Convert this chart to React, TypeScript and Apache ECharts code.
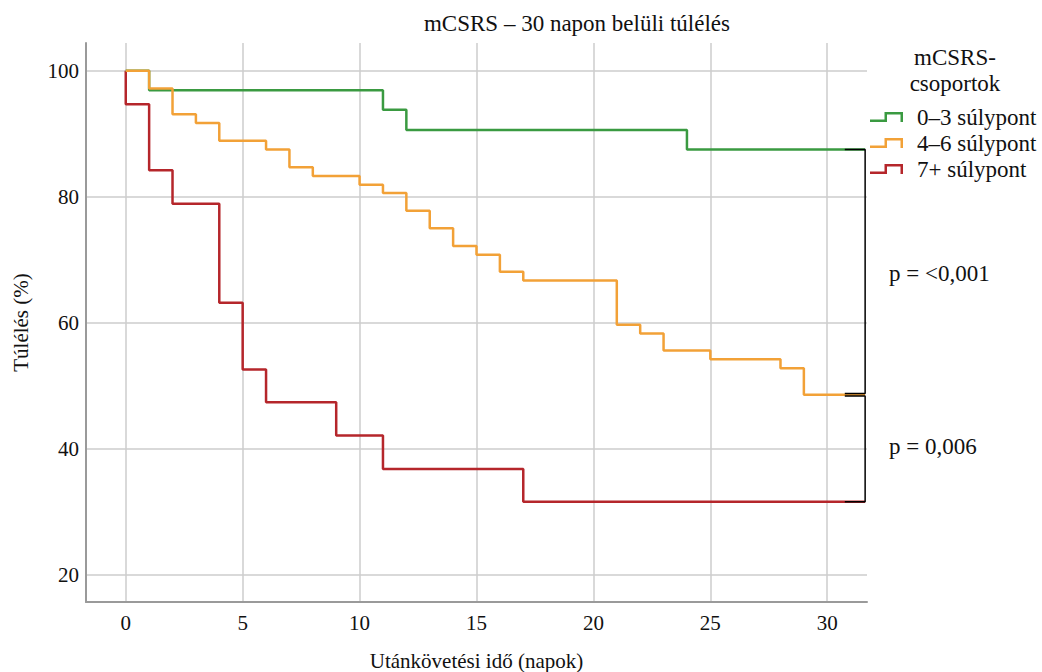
import React, { useEffect, useRef } from "react";
import * as echarts from "echarts";

const FONT = "Liberation Serif, Times New Roman, serif";

const chartTitle = "mCSRS – 30 napon belüli túlélés";
const xAxisName = "Utánkövetési idő (napok)";
const yAxisName = "Túlélés (%)";
const legendTitle = ["mCSRS-", "csoportok"];
const xTicks = [0, 5, 10, 15, 20, 25, 30];
const yTicks = [20, 40, 60, 80, 100];
const groupNames = ["0–3 súlypont", "4–6 súlypont", "7+ súlypont"];
const groupColors = ["#3a9a41", "#f2a137", "#b5262b"];

const greenDays = [0, 1, 11, 12, 24, 31.62];
const greenSurv = [100, 96.9, 93.8, 90.6, 87.5, 87.5];

const orangeDays = [0, 1, 2, 3, 4, 6, 7, 8, 10, 11, 12, 13, 14, 15, 16, 17, 21, 22, 23, 25, 28, 29, 31.62];
const orangeSurv = [100, 97.2, 93.1, 91.7, 88.9, 87.5, 84.7, 83.3, 81.9, 80.6, 77.8, 75.0, 72.2, 70.8, 68.1, 66.7, 59.7, 58.3, 55.6, 54.2, 52.8, 48.6, 48.6];

const redDays = [0, 0, 1, 2, 4, 5, 6, 9, 11, 17, 31.62];
const redSurv = [100, 94.7, 84.2, 78.9, 63.2, 52.6, 47.4, 42.1, 36.8, 31.6, 31.6];

const pLabels = ["p = <0,001", "p = 0,006"];
const bracketTickFrom = 30.75;

const zip = (a: number[], b: number[]) => a.map((v, i) => [v, b[i]]);

export default function App() {
  const ref = useRef<HTMLDivElement>(null);
  useEffect(() => {
    if (!ref.current) return;
    const chart = echarts.init(ref.current, undefined, { renderer: "svg" });
    const groups = [zip(greenDays, greenSurv), zip(orangeDays, orangeSurv), zip(redDays, redSurv)];
    const zOrder = [4, 5, 3];
    const endX = greenDays[greenDays.length - 1];
    const g = greenSurv[greenSurv.length - 1];
    const o = orangeSurv[orangeSurv.length - 1];
    const r = redSurv[redSurv.length - 1];
    const bracket1 = [[bracketTickFrom, g], [endX, g], [endX, o + 0.2], [bracketTickFrom, o + 0.2]];
    const bracket2 = [[bracketTickFrom, o - 0.2], [endX, o - 0.2], [endX, r], [bracketTickFrom, r]];

    const iconPath = "path://M0,7.5 L14.5,7.5 L14.5,0 L33,0 L33,10 L30.5,10 L30.5,2.5 L17,2.5 L17,10 L0,10 Z";

    const option: any = {
      animation: false,
      backgroundColor: "#ffffff",
      textStyle: { fontFamily: FONT },
      title: {
        text: chartTitle,
        left: 577,
        top: 12,
        textAlign: "center",
        padding: 0,
        textStyle: { fontFamily: FONT, fontSize: 23, fontWeight: "normal", color: "#111" },
      },
      legend: {
        orient: "vertical",
        left: 870,
        top: 104,
        padding: 0,
        itemGap: 0,
        itemWidth: 33,
        itemHeight: 10,
        icon: iconPath,
        data: groupNames,
        textStyle: { fontFamily: FONT, fontSize: 23, color: "#111", lineHeight: 26, padding: [0, 0, 0, 9] },
        itemStyle: { borderWidth: 0 },
      },
      grid: { left: 86, right: 175, top: 43, bottom: 70, outerBoundsMode: "none" },
      xAxis: {
        type: "value",
        min: -1.7,
        max: 31.7,
        name: xAxisName,
        nameLocation: "middle",
        nameGap: 48,
        nameTextStyle: { fontFamily: FONT, fontSize: 21, color: "#111" },
        axisLine: { show: true, onZero: false, lineStyle: { color: "#9a9a9a", width: 2 } },
        axisTick: { show: false, customValues: xTicks },
        axisLabel: { customValues: xTicks, fontFamily: FONT, fontSize: 21, color: "#111", margin: 10 },
        splitLine: { show: true, lineStyle: { color: "#cccccc", width: 1.5 } },
      },
      yAxis: {
        type: "value",
        min: 15.7,
        max: 104.4,
        name: yAxisName,
        nameLocation: "middle",
        nameGap: 55,
        nameTextStyle: { fontFamily: FONT, fontSize: 21, color: "#111" },
        axisLine: { show: true, onZero: false, lineStyle: { color: "#9a9a9a", width: 2 } },
        axisTick: { show: false, customValues: yTicks },
        axisLabel: { customValues: yTicks, fontFamily: FONT, fontSize: 21, color: "#111", margin: 7 },
        splitLine: { show: true, lineStyle: { color: "#cccccc", width: 1.5 } },
      },
      series: [
        ...groups.map((d, i) => ({
          name: groupNames[i],
          type: "line",
          step: "end",
          data: d,
          showSymbol: false,
          symbol: "none",
          lineStyle: { color: groupColors[i], width: 2.5 },
          itemStyle: { color: groupColors[i] },
          z: zOrder[i],
        })),
        {
          name: "bracket1",
          type: "line",
          data: bracket1,
          symbol: "none",
          silent: true,
          lineStyle: { color: "#000", width: 1.5 },
          z: 10,
        },
        {
          name: "bracket2",
          type: "line",
          data: bracket2,
          symbol: "none",
          silent: true,
          lineStyle: { color: "#000", width: 1.5 },
          z: 10,
        },
      ],
      graphic: [
        {
          type: "text",
          x: 955,
          y: 57,
          style: { text: legendTitle[0], fontFamily: FONT, fontSize: 23, fill: "#111", align: "center", verticalAlign: "middle" },
        },
        {
          type: "text",
          x: 955,
          y: 83,
          style: { text: legendTitle[1], fontFamily: FONT, fontSize: 23, fill: "#111", align: "center", verticalAlign: "middle" },
        },
        {
          type: "text",
          x: 889,
          y: 273,
          style: { text: pLabels[0], fontFamily: FONT, fontSize: 23, fill: "#111", align: "left", verticalAlign: "middle" },
        },
        {
          type: "text",
          x: 889,
          y: 446,
          style: { text: pLabels[1], fontFamily: FONT, fontSize: 23, fill: "#111", align: "left", verticalAlign: "middle" },
        },
      ],
    };
    chart.setOption(option);
    return () => chart.dispose();
  }, []);
  return (
    <div
      ref={ref}
      style={{ position: "fixed", left: 0, top: 0, width: 1042, height: 672, background: "#fff" }}
    />
  );
}
